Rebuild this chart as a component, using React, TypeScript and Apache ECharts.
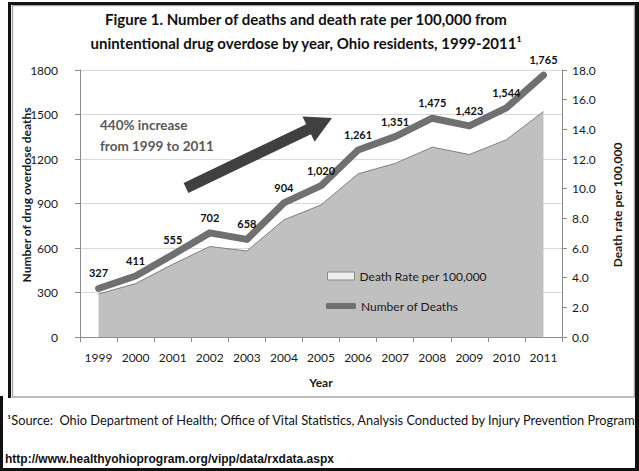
import React, { useEffect, useRef } from "react";
import * as echarts from "echarts";

const years = ["1999", "2000", "2001", "2002", "2003", "2004", "2005", "2006", "2007", "2008", "2009", "2010", "2011"];
const deaths = [327, 411, 555, 702, 658, 904, 1020, 1261, 1351, 1475, 1423, 1544, 1765];
const deathRate = [2.9, 3.6, 4.9, 6.1, 5.8, 7.9, 8.9, 11.0, 11.7, 12.8, 12.3, 13.3, 15.2];

const titleLines = [
  "Figure 1. Number of deaths and death rate per 100,000 from",
  "unintentional drug overdose by year, Ohio residents, 1999-2011\u00B9",
];
const leftAxisName = "Number of drug overdose deaths";
const rightAxisName = "Death rate per 100,000";
const annotationLines = ["440% increase", "from 1999 to 2011"];
const sourceText = "\u00B9Source:  Ohio Department of Health; Office of Vital Statistics, Analysis Conducted by Injury Prevention Program";
const urlText = "http://www.healthyohioprogram.org/vipp/data/rxdata.aspx";

const FONT = "Lato, 'Open Sans', sans-serif";

function arrowPoints(tail: number[], tip: number[], shaftHalf: number, headLen: number, headHalf: number) {
  const dx = tip[0] - tail[0];
  const dy = tip[1] - tail[1];
  const len = Math.sqrt(dx * dx + dy * dy);
  const ux = dx / len, uy = dy / len;
  const nx = -uy, ny = ux;
  const bx = tip[0] - ux * headLen, by = tip[1] - uy * headLen;
  return [
    [tail[0] + nx * shaftHalf, tail[1] + ny * shaftHalf],
    [bx + nx * shaftHalf, by + ny * shaftHalf],
    [bx + nx * headHalf, by + ny * headHalf],
    [tip[0], tip[1]],
    [bx - nx * headHalf, by - ny * headHalf],
    [bx - nx * shaftHalf, by - ny * shaftHalf],
    [tail[0] - nx * shaftHalf, tail[1] - ny * shaftHalf],
  ];
}

export default function App() {
  const ref = useRef<HTMLDivElement>(null);
  useEffect(() => {
    if (!ref.current) return;
    const chart = echarts.init(ref.current, undefined, { renderer: "svg" });
    const option: any = {
      animation: false,
      backgroundColor: "#ffffff",
      textStyle: { fontFamily: FONT },
      grid: { left: 80, right: 77, top: 70, bottom: 134, containLabel: false },
      legend: [
        {
          left: 327, top: 270, padding: 0, itemWidth: 27, itemHeight: 8, itemGap: 5,
          textStyle: { fontFamily: FONT, fontSize: 12, color: "#1a1a1a" },
          data: [{ name: "Death Rate per 100,000", icon: "rect", itemStyle: { color: "#eeeeee", borderColor: "#8a8a8a", borderWidth: 1 } }],
        },
        {
          left: 326, top: 300, padding: 0, itemWidth: 30, itemHeight: 6,
          textStyle: { fontFamily: FONT, fontSize: 12, color: "#1a1a1a" },
          data: [{ name: "Number of Deaths", icon: "roundRect", itemStyle: { color: "#707070" } }],
        },
      ],
      xAxis: {
        type: "category",
        data: years,
        boundaryGap: true,
        name: "Year",
        nameLocation: "middle",
        nameGap: 39,
        nameMoveOverlap: false,
        nameTextStyle: { fontFamily: FONT, fontWeight: "bold", fontSize: 12, color: "#1a1a1a" },
        axisLine: { lineStyle: { color: "#8c8c8c", width: 1 } },
        axisTick: { show: true, length: 5, lineStyle: { color: "#8c8c8c" } },
        axisLabel: { margin: 14, fontFamily: FONT, fontSize: 12, color: "#1a1a1a" },
        splitLine: { show: false },
      },
      yAxis: [
        {
          type: "value", min: 0, max: 1800, interval: 300,
          axisLine: { show: true, lineStyle: { color: "#8c8c8c" } },
          axisTick: { show: true, length: 5, lineStyle: { color: "#8c8c8c" } },
          axisLabel: { margin: 22, fontFamily: FONT, fontSize: 12, color: "#1a1a1a", formatter: (v: number) => String(v) },
          splitLine: { show: true, lineStyle: { color: "#d9d9d9", width: 1 } },
        },
        {
          type: "value", min: 0, max: 18, interval: 2, position: "right",
          axisLine: { show: true, lineStyle: { color: "#8c8c8c" } },
          axisTick: { show: true, length: 5, lineStyle: { color: "#8c8c8c" } },
          axisLabel: { margin: 10, fontFamily: FONT, fontSize: 12, color: "#1a1a1a", formatter: (v: number) => v.toFixed(1) },
          splitLine: { show: false },
        },
      ],
      series: [
        {
          name: "Death Rate per 100,000",
          type: "line",
          yAxisIndex: 1,
          data: deathRate,
          symbol: "none",
          lineStyle: { color: "#7f7f7f", width: 1 },
          itemStyle: { color: "#c0c0c0" },
          areaStyle: { color: "#c0c0c0", opacity: 1 },
          z: 1,
        },
        {
          name: "Number of Deaths",
          type: "line",
          yAxisIndex: 0,
          data: deaths,
          symbol: "circle",
          symbolSize: 2,
          itemStyle: { color: "#707070" },
          lineStyle: { color: "#707070", width: 7, cap: "round", join: "round" },
          label: {
            show: true, position: "top", distance: 9,
            fontFamily: FONT, fontWeight: "bold", fontSize: 11, color: "#111111",
            formatter: (p: any) => Number(p.value).toLocaleString("en-US"),
          },
          z: 3,
        },
      ],
      graphic: [
        {
          type: "text", x: 306, y: 19, z: 10,
          style: { text: titleLines[0], font: `bold 15px ${FONT}`, fill: "#111111", textAlign: "center", textVerticalAlign: "middle" },
        },
        {
          type: "text", x: 306, y: 43, z: 10,
          style: { text: titleLines[1], font: `bold 15px ${FONT}`, fill: "#111111", textAlign: "center", textVerticalAlign: "middle" },
        },
        {
          type: "text", x: 26, y: 195, rotation: Math.PI / 2, z: 10,
          style: { text: leftAxisName, font: `bold 12px ${FONT}`, fill: "#1a1a1a", textAlign: "center", textVerticalAlign: "middle" },
        },
        {
          type: "text", x: 617, y: 205, rotation: Math.PI / 2, z: 10,
          style: { text: rightAxisName, font: `bold 12px ${FONT}`, fill: "#1a1a1a", textAlign: "center", textVerticalAlign: "middle" },
        },
        {
          type: "text", x: 100, y: 125, z: 10,
          style: { text: annotationLines[0], font: `bold 13.5px ${FONT}`, fill: "#595959", textAlign: "left", textVerticalAlign: "middle" },
        },
        {
          type: "text", x: 100, y: 146, z: 10,
          style: { text: annotationLines[1], font: `bold 13.5px ${FONT}`, fill: "#595959", textAlign: "left", textVerticalAlign: "middle" },
        },
        {
          type: "polygon", z: 10,
          shape: { points: arrowPoints([186, 188], [332, 118], 5.5, 26, 14) },
          style: { fill: "#404040" },
        },
        {
          type: "text", x: 7, y: 420, z: 10,
          style: { text: sourceText, font: `12.8px ${FONT}`, fill: "#111111", textAlign: "left", textVerticalAlign: "middle" },
        },
        {
          type: "text", x: 5, y: 459, z: 10,
          style: { text: urlText, font: `bold 12px 'Liberation Sans', Arial, sans-serif`, fill: "#111111", textAlign: "left", textVerticalAlign: "middle" },
        },
        {
          type: "rect", z: 20,
          shape: { x: 12.5, y: 5.5, width: 622, height: 391.5 },
          style: { fill: "none", stroke: "#a6a6a6", lineWidth: 1.5 },
        },
        { type: "rect", z: 21, shape: { x: 8, y: 2, width: 631, height: 3 }, style: { fill: "#111111" } },
        { type: "rect", z: 21, shape: { x: 8, y: 2, width: 3, height: 396 }, style: { fill: "#111111" } },
        { type: "rect", z: 21, shape: { x: 0, y: 396, width: 3, height: 75 }, style: { fill: "#111111" } },
        { type: "rect", z: 21, shape: { x: 0, y: 468, width: 639, height: 3 }, style: { fill: "#111111" } },
        { type: "rect", z: 21, shape: { x: 635, y: 2, width: 4, height: 469 }, style: { fill: "#111111" } },
      ],
    };
    chart.setOption(option);
    return () => chart.dispose();
  }, []);
  return <div ref={ref} style={{ position: "fixed", left: 0, top: 0, width: 639, height: 471 }} />;
}
